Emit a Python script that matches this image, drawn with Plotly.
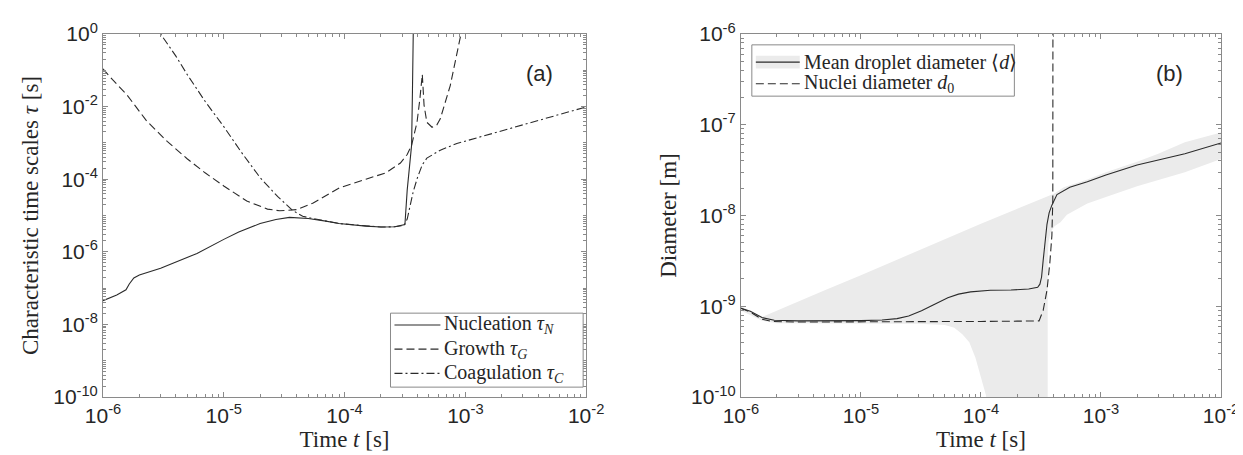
import plotly.graph_objects as go

# ---------------- Panel (a): characteristic time scales ----------------
t_nuc = [1e-6, 1.3e-6, 1.55e-6, 1.65e-6, 1.8e-6, 2e-6, 3e-6, 4e-6, 6e-6, 1e-5, 1.33e-5,
         2e-5, 2.7e-5, 3.5e-5, 5e-5, 7e-5, 9e-5, 1.5e-4, 2e-4, 2.6e-4, 3.1e-4, 3.16e-4, 3.3e-4, 3.45e-4,
         3.59e-4, 3.65e-4, 3.7e-4, 3.72e-4]
tau_nuc = [4.5e-8, 6.5e-8, 9e-8, 1.3e-7, 1.9e-7, 2.3e-7, 3.5e-7, 5.1e-7, 9e-7, 2.2e-6, 3.5e-6,
           6e-6, 7.8e-6, 8.9e-6, 8.3e-6, 7e-6, 6e-6, 5.1e-6, 4.8e-6, 4.9e-6, 5.3e-6, 5.6e-6, 5e-5, 2.5e-4,
           8.7e-4, 3e-2, 1.0, 3.0]

t_gro = [1e-6, 1.2e-6, 1.58e-6, 2.3e-6, 3.4e-6, 5e-6, 7e-6, 1e-5, 1.55e-5, 2.3e-5, 2.9e-5, 4e-5, 5.5e-5,
         9.1e-5, 1.5e-4, 2.2e-4, 2.9e-4, 3.3e-4, 3.59e-4, 3.98e-4, 4.2e-4, 4.4e-4, 4.55e-4, 4.8e-4,
         5.3e-4, 5.8e-4, 6.2e-4, 7.5e-4, 9.2e-4, 9.6e-4]
tau_gro = [0.11, 0.055, 0.021, 4e-3, 1.1e-3, 3.6e-4, 1.5e-4, 6.5e-5, 2.5e-5, 1.5e-5, 1.35e-5, 1.45e-5, 2.2e-5,
           5.8e-5, 1e-4, 1.5e-4, 2.8e-4, 4.8e-4, 8.7e-4, 3.7e-3, 1.6e-2, 7.7e-2, 1.1e-2, 3.7e-3,
           2.7e-3, 3.1e-3, 4.6e-3, 3.8e-2, 1.0, 2.0]

t_coa = [2.8e-6, 3e-6, 4e-6, 5e-6, 7e-6, 1e-5, 1.4e-5, 2e-5, 2.8e-5, 3.7e-5, 4.5e-5, 5.5e-5,
         9e-5, 1.5e-4, 2e-4, 2.6e-4, 3.1e-4, 3.3e-4, 3.5e-4, 3.7e-4, 4e-4, 4.4e-4, 4.8e-4,
         6.2e-4, 8.5e-4, 1.17e-3, 2e-3, 5e-3, 1e-2]
tau_coa = [2.0, 1.0, 0.25, 0.075, 1.4e-2, 2.8e-3, 5.5e-4, 1.1e-4, 3.3e-5, 1.4e-5, 9.5e-6, 8.2e-6,
           6e-6, 5.1e-6, 4.8e-6, 4.9e-6, 5.3e-6, 8e-6, 2e-5, 4.5e-5, 1.07e-4, 2.5e-4, 3.8e-4,
           6.3e-4, 9.6e-4, 1.3e-3, 2.1e-3, 5.1e-3, 9.8e-3]

# ---------------- Panel (b): diameters ----------------
t_mean = [1e-6, 1.2e-6, 1.5e-6, 1.9e-6, 3e-6, 5e-6, 1e-5, 1.5e-5, 2e-5, 2.5e-5, 3.2e-5, 4e-5,
          5.3e-5, 6.5e-5, 8.2e-5, 1.2e-4, 1.78e-4, 2.5e-4, 2.97e-4, 3.1e-4, 3.2e-4, 3.3e-4, 3.4e-4,
          3.55e-4, 3.7e-4, 3.9e-4, 4.3e-4, 5.5e-4, 7.7e-4, 1.1e-3, 2e-3, 5e-3, 1e-2]
d_mean = [9.5e-10, 8.8e-10, 7.5e-10, 7e-10, 6.9e-10, 6.9e-10, 6.95e-10, 7.05e-10, 7.3e-10, 7.8e-10, 8.9e-10, 1.03e-9,
          1.24e-9, 1.36e-9, 1.44e-9, 1.5e-9, 1.51e-9, 1.55e-9, 1.62e-9, 1.75e-9, 2.1e-9, 3.2e-9, 5e-9,
          8e-9, 1.07e-8, 1.3e-8, 1.7e-8, 2.05e-8, 2.35e-8, 2.8e-8, 3.6e-8, 4.8e-8, 6.3e-8]

t_nucl = [1e-6, 1.2e-6, 1.5e-6, 1.8e-6, 3e-6, 1e-5, 5e-5, 1e-4, 2e-4, 3.05e-4, 3.3e-4,
          3.55e-4, 3.75e-4, 3.9e-4, 3.97e-4, 3.98e-4]
d_nucl = [9.5e-10, 8.6e-10, 7.2e-10, 6.8e-10, 6.7e-10, 6.7e-10, 6.75e-10, 6.8e-10, 6.85e-10, 6.9e-10, 9e-10,
          1.5e-9, 3e-9, 6e-9, 1.5e-8, 2e-6]

t_band_up = [1e-6, 1.5e-6, 5e-6, 1e-5, 1e-4, 3.8e-4, 4.1e-4, 4.9e-4, 7.7e-4, 1.1e-3, 2e-3,
             3e-3, 5e-3, 1e-2]
d_band_up = [1.0e-9, 7.6e-10, 1.5e-9, 2.2e-9, 8.1e-9, 1.7e-8, 1.75e-8, 2.05e-8, 2.5e-8, 3.0e-8, 3.9e-8,
             4.8e-8, 6.4e-8, 8.2e-8]

t_band_lo = [1e-6, 1.5e-6, 2e-6, 1e-5, 3e-5, 5e-5, 6e-5, 7e-5, 8e-5, 9e-5, 1e-4, 1.1e-4,
             1.15e-4, 3.6e-4, 3.6e-4, 3.65e-4, 3.8e-4, 4.1e-4, 4.6e-4, 5.2e-4, 7.7e-4, 1.1e-3,
             2e-3, 5e-3, 1e-2]
d_band_lo = [9.0e-10, 6.9e-10, 6.5e-10, 6.4e-10, 6.4e-10, 6.2e-10, 5.8e-10, 4.9e-10, 4.0e-10, 2.7e-10, 1.7e-10, 1.05e-10,
             1e-11, 1e-11, 3.2e-9, 5e-9, 6.5e-9, 7.6e-9, 8.4e-9, 1.02e-8, 1.36e-8, 1.6e-8,
             2.1e-8, 3.0e-8, 4.2e-8]

x_exps = [-6, -5, -4, -3, -2]
ya_exps = [-10, -8, -6, -4, -2, 0]
yb_exps = [-10, -9, -8, -7, -6]

legend_a_labels = ["Nucleation <i>τ</i><sub><i>N</i></sub>", "Growth <i>τ</i><sub><i>G</i></sub>",
                   "Coagulation <i>τ</i><sub><i>C</i></sub>"]
legend_b_labels = ["Mean droplet diameter ⟨<i>d</i>⟩", "Nuclei diameter <i>d</i><sub>0</sub>"]

LINE = "#2b2b2b"
AX = "#8a8a8a"
TXT = "#262626"
BAND = "#ebebeb"
SERIF = "Liberation Serif, Times New Roman, serif"
SANS = "Liberation Sans, Arial, sans-serif"
DASH = "8px,4px"
DASHDOT = "8px,3px,2px,3px"

# figure geometry (pixels)
W, H = 1243, 455
ML, MR, MT, MB = 95, 28, 21, 66
PW, PH = W - ML - MR, H - MT - MB


def px(x):
    return (x - ML) / PW


def py(y):
    return (H - MB - y) / PH


def sup(e):
    return "10<sup>%d</sup>" % e


def minor_vals(e0, e1, extra=()):
    vals = [k * 10.0 ** e for e in range(e0, e1) for k in range(2, 10)]
    return vals + [10.0 ** e for e in extra]


fig = go.Figure()

fig.add_trace(go.Scatter(x=t_nuc, y=tau_nuc, mode="lines", showlegend=False,
                         line=dict(color=LINE, width=1.1), xaxis="x", yaxis="y"))
fig.add_trace(go.Scatter(x=t_gro, y=tau_gro, mode="lines", showlegend=False,
                         line=dict(color=LINE, width=1.1, dash=DASH), xaxis="x", yaxis="y"))
fig.add_trace(go.Scatter(x=t_coa, y=tau_coa, mode="lines", showlegend=False,
                         line=dict(color=LINE, width=1.1, dash=DASHDOT), xaxis="x", yaxis="y"))

band_x = t_band_up + t_band_lo[::-1]
band_y = d_band_up + d_band_lo[::-1]
fig.add_trace(go.Scatter(x=band_x, y=band_y, mode="lines", fill="toself", fillcolor=BAND,
                         line=dict(width=0, color=BAND), showlegend=False, hoverinfo="skip",
                         xaxis="x2", yaxis="y2"))
fig.add_trace(go.Scatter(x=t_mean, y=d_mean, mode="lines", showlegend=False,
                         line=dict(color=LINE, width=1.1), xaxis="x2", yaxis="y2"))
fig.add_trace(go.Scatter(x=t_nucl, y=d_nucl, mode="lines", showlegend=False,
                         line=dict(color=LINE, width=1.1, dash=DASH), xaxis="x2", yaxis="y2"))

common_axis = dict(type="log", showline=True, linecolor=AX, linewidth=1, mirror="allticks",
                   ticks="inside", ticklen=5, tickcolor=AX, showgrid=False, zeroline=False,
                   tickfont=dict(family=SANS, size=21, color=TXT), tickmode="array")

xa = dict(common_axis, range=[-6, -2], tickvals=[10.0 ** e for e in x_exps], ticktext=[sup(e) for e in x_exps],
          minor=dict(ticks="inside", ticklen=3, tickcolor=AX, tickvals=minor_vals(-6, -2)),
          title=dict(text="Time <i>t</i> [s]", font=dict(family=SERIF, size=23, color=TXT), standoff=4))

# ---- hand-built legends (MATLAB style boxes) ----
shapes = []
annotations = []

# legend (a)
shapes.append(dict(type="rect", xref="paper", yref="paper", x0=px(383), x1=px(576), y0=py(379), y1=py(304),
                   line=dict(color=AX, width=1), fillcolor="white", layer="above"))
rows_a = [316.0, 340.5, 365.0]
dashes_a = ["solid", DASH, DASHDOT]
for yy, dsh, lab in zip(rows_a, dashes_a, legend_a_labels):
    shapes.append(dict(type="line", xref="paper", yref="paper", x0=px(387), x1=px(433), y0=py(yy), y1=py(yy),
                       line=dict(color=LINE, width=1.1, dash=dsh), layer="above"))
    annotations.append(dict(text=lab, x=px(435), y=py(yy), xref="paper", yref="paper", xanchor="left",
                            yanchor="middle", showarrow=False, font=dict(family=SERIF, size=20, color=TXT)))

# legend (b)
shapes.append(dict(type="rect", xref="paper", yref="paper", x0=px(745), x1=px(1008), y0=py(84), y1=py(32),
                   line=dict(color=AX, width=1), fillcolor="white", layer="above"))
shapes.append(dict(type="rect", xref="paper", yref="paper", x0=px(749), x1=px(793), y0=py(56), y1=py(43),
                   line=dict(width=0), fillcolor=BAND, layer="above"))
rows_b = [49.5, 71.5]
dashes_b = ["solid", DASH]
for yy, dsh, lab in zip(rows_b, dashes_b, legend_b_labels):
    shapes.append(dict(type="line", xref="paper", yref="paper", x0=px(749), x1=px(793), y0=py(yy), y1=py(yy),
                       line=dict(color=LINE, width=1.1, dash=dsh), layer="above"))
    annotations.append(dict(text=lab, x=px(795), y=py(yy), xref="paper", yref="paper", xanchor="left",
                            yanchor="middle", showarrow=False, font=dict(family=SERIF, size=20, color=TXT)))

annotations.append(dict(text="(a)", x=0.935, y=0.93, xref="x domain", yref="y domain", showarrow=False,
                        font=dict(family=SANS, size=22, color=TXT)))
annotations.append(dict(text="(b)", x=0.926, y=0.93, xref="x2 domain", yref="y2 domain", showarrow=False,
                        font=dict(family=SANS, size=22, color=TXT)))

layout = dict(
    width=W, height=H, plot_bgcolor="white", paper_bgcolor="white",
    margin=dict(l=ML, r=MR, t=MT, b=MB),
    showlegend=False,
    xaxis=dict(xa, domain=[0, px(579)], anchor="y"),
    xaxis2=dict(xa, domain=[px(734), 1.0], anchor="y2"),
    yaxis=dict(common_axis, range=[-10, 0], anchor="x",
               tickvals=[10.0 ** e for e in ya_exps],
               ticktext=[sup(e) for e in ya_exps],
               minor=dict(ticks="inside", ticklen=3, tickcolor=AX,
                          tickvals=minor_vals(-10, 0, extra=(-9, -7, -5, -3, -1))),
               title=dict(text="Characteristic time scales <i>τ</i> [s]",
                          font=dict(family=SERIF, size=23, color=TXT), standoff=8)),
    yaxis2=dict(common_axis, range=[-10, -6], anchor="x2",
                tickvals=[10.0 ** e for e in yb_exps], ticktext=[sup(e) for e in yb_exps],
                minor=dict(ticks="inside", ticklen=3, tickcolor=AX, tickvals=minor_vals(-10, -6)),
                title=dict(text="Diameter [m]", font=dict(family=SERIF, size=23, color=TXT), standoff=8)),
    shapes=shapes,
    annotations=annotations,
)
fig.update_layout(**layout)
fig.write_html("out.html")
